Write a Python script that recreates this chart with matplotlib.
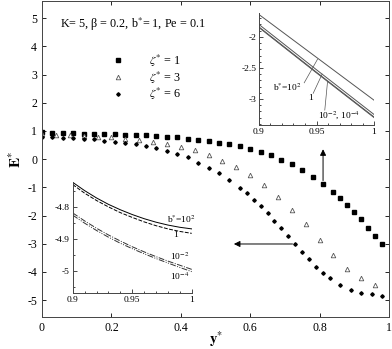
import numpy as np
import matplotlib
matplotlib.use("Agg")
from matplotlib import pyplot as plt
from matplotlib.ticker import FuncFormatter, MultipleLocator

plt.rcParams['font.family'] = ['Liberation Serif', 'DejaVu Serif']
plt.rcParams['mathtext.fontset'] = 'stix'
plt.rcParams['axes.unicode_minus'] = False

# zeta* = 1 (squares)
x1 = [0, 0.03, 0.06, 0.09, 0.12, 0.15, 0.18, 0.21, 0.24, 0.27, 0.30, 0.33, 0.36,
      0.39, 0.42, 0.45, 0.48, 0.51, 0.54, 0.57, 0.60, 0.63, 0.66, 0.69, 0.72, 0.75,
      0.78, 0.81, 0.84, 0.86, 0.88, 0.90, 0.92, 0.94, 0.96, 0.98]
y1 = [0.95, 0.92, 0.92, 0.92, 0.90, 0.90, 0.90, 0.90, 0.87, 0.86, 0.84, 0.83, 0.80,
      0.77, 0.73, 0.69, 0.65, 0.59, 0.52, 0.45, 0.36, 0.25, 0.13, -0.02, -0.18, -0.38,
      -0.62, -0.88, -1.16, -1.39, -1.62, -1.88, -2.14, -2.43, -2.72, -3.01]

# zeta* = 3 (triangles)
x3 = [0, 0.04, 0.08, 0.12, 0.16, 0.20, 0.24, 0.28, 0.32, 0.36, 0.40, 0.44, 0.48,
      0.52, 0.56, 0.60, 0.64, 0.68, 0.72, 0.76, 0.80, 0.84, 0.88, 0.92, 0.96]
y3 = [0.90, 0.86, 0.84, 0.82, 0.80, 0.78, 0.72, 0.69, 0.60, 0.53, 0.43, 0.31, 0.16,
      -0.06, -0.28, -0.58, -0.92, -1.33, -1.80, -2.31, -2.87, -3.41, -3.88, -4.22, -4.46]

# zeta* = 6 (dots)
x6 = [0, 0.03, 0.06, 0.09, 0.12, 0.15, 0.18, 0.21, 0.24, 0.27, 0.30, 0.33, 0.36,
      0.39, 0.42, 0.45, 0.48, 0.51, 0.54, 0.57, 0.59, 0.61, 0.63, 0.65, 0.67, 0.69,
      0.71, 0.73, 0.75, 0.77, 0.79, 0.81, 0.83, 0.86, 0.89, 0.92, 0.95, 0.98]
y6 = [0.78, 0.77, 0.76, 0.75, 0.72, 0.70, 0.66, 0.62, 0.57, 0.52, 0.45, 0.38, 0.28,
      0.18, 0.06, -0.12, -0.30, -0.50, -0.74, -1.01, -1.21, -1.44, -1.66, -1.92, -2.18,
      -2.46, -2.73, -3.01, -3.29, -3.56, -3.82, -4.04, -4.23, -4.47, -4.63, -4.75, -4.80, -4.85]

# inset near y*=1 for zeta*=1
xa = [0.9, 0.95, 1.0]
ya_b100 = [-1.64, -2.33, -3.02]
ya_b1 = [-1.80, -2.53, -3.25]
ya_b001 = [-1.84, -2.57, -3.29]
ya_b0001 = [-1.85, -2.58, -3.30]

# inset near y*=1 for zeta*=6
xb = [0.90, 0.91, 0.92, 0.93, 0.94, 0.95, 0.96, 0.97, 0.98, 0.99, 1.00]
yb_b100 = [-4.722, -4.748, -4.771, -4.791, -4.808, -4.823, -4.836, -4.847, -4.856, -4.863, -4.868]
yb_b1 = [-4.729, -4.756, -4.779, -4.799, -4.817, -4.832, -4.846, -4.858, -4.868, -4.876, -4.882]
yb_b001 = [-4.818, -4.843, -4.866, -4.887, -4.906, -4.924, -4.940, -4.955, -4.969, -4.982, -4.995]
yb_b0001 = [-4.825, -4.850, -4.873, -4.894, -4.913, -4.930, -4.946, -4.961, -4.975, -4.989, -5.002]

fmt = FuncFormatter(lambda v, p: '%g' % round(v, 4))

fig = plt.figure(figsize=(3.92, 3.49), dpi=100)
ax = fig.add_axes([0.1071, 0.0917, 0.8852, 0.9046])

ax.plot(x1, y1, 's', color='black', ms=2.3, ls='none', label=r'$\zeta^{*}$ = 1')
ax.plot(x3, y3, '^', mfc='white', mec='#555555', mew=0.6, ms=3.3, ls='none', label=r'$\zeta^{*}$ = 3')
ax.plot(x6, y6, 'D', color='black', ms=1.8, ls='none', label=r'$\zeta^{*}$ = 6')

ax.set_xlim(0, 1)
ax.set_ylim(-5.6, 5.6)
ax.xaxis.set_major_locator(MultipleLocator(0.2))
ax.yaxis.set_major_locator(MultipleLocator(1))
ax.xaxis.set_major_formatter(fmt)
ax.yaxis.set_major_formatter(fmt)
ax.tick_params(direction='in', top=True, right=True, labelsize=8.5, length=3, width=0.6)
for s in ax.spines.values():
    s.set_linewidth(0.7)
    s.set_color('#444444')

ax.set_xlabel(r'$\mathbf{y}^{*}$', fontsize=10.5, labelpad=-3.5)
ax.set_ylabel(r'$\mathbf{E}^{*}$', fontsize=11, labelpad=2)

ax.text(0.052, 4.78, r'K= 5, β = 0.2, b$^{*}$= 1, Pe = 0.1', fontsize=8.7, va='center')

ax.legend(loc='center left', bbox_to_anchor=(0.17, 0.759), frameon=False, fontsize=8.7,
          handlelength=1, handletextpad=2.1, labelspacing=0.05, numpoints=1)

# arrows pointing to insets
ax.annotate('', xy=(0.81, 0.45), xytext=(0.81, -0.86),
            arrowprops=dict(arrowstyle='-|>', color='black', lw=0.7, mutation_scale=9))
ax.annotate('', xy=(0.545, -3.01), xytext=(0.73, -3.01),
            arrowprops=dict(arrowstyle='-|>', color='black', lw=0.7, mutation_scale=9))

# inset 1
a1 = fig.add_axes([0.6607, 0.6418, 0.2934, 0.3201])
a1.plot(xa, ya_b100, color='#555555', lw=0.7)
a1.plot(xa, ya_b1, color='#555555', lw=0.7)
a1.plot(xa, ya_b001, color='#555555', lw=0.7)
a1.plot(xa, ya_b0001, color='#555555', lw=0.7)
a1.set_xlim(0.9, 1)
a1.set_ylim(-3.42, -1.62)
a1.xaxis.set_major_locator(MultipleLocator(0.05))
a1.xaxis.set_minor_locator(MultipleLocator(0.01))
a1.yaxis.set_major_locator(MultipleLocator(0.5))
a1.yaxis.set_minor_locator(MultipleLocator(0.1))
a1.xaxis.set_major_formatter(fmt)
a1.yaxis.set_major_formatter(fmt)
a1.text(0.9243, -2.82, r'b$^{*}$=10$^{2}$', fontsize=6.8, ha='center', va='center')
a1.plot([0.9393, 0.9509], [-2.74, -2.36], color='#555555', lw=0.5)
a1.text(0.945, -2.99, '1', fontsize=6.8, ha='center', va='center')
a1.plot([0.9471, 0.9549], [-2.91, -2.60], color='#555555', lw=0.5)
a1.text(0.970, -3.26, r'10$^{-2}$, 10$^{-4}$', fontsize=6.8, ha='center', va='center')
a1.plot([0.9572, 0.9596], [-3.18, -2.72], color='#555555', lw=0.5)

# inset 2
a2 = fig.add_axes([0.1855, 0.1596, 0.3036, 0.3198])
a2.plot(xb, yb_b100, color='black', lw=0.7, ls='-')
a2.plot(xb, yb_b1, color='black', lw=0.7, ls=(0, (4, 1.5)))
a2.plot(xb, yb_b001, color='#333333', lw=0.7, ls=(0, (6, 1.5, 1, 1.5)))
a2.plot(xb, yb_b0001, color='#333333', lw=0.7, ls=(0, (6, 1.5, 1, 1.5, 1, 1.5)))
a2.set_xlim(0.9, 1)
a2.set_ylim(-5.07, -4.72)
a2.xaxis.set_major_locator(MultipleLocator(0.05))
a2.xaxis.set_minor_locator(MultipleLocator(0.01))
a2.yaxis.set_major_locator(MultipleLocator(0.1))
a2.yaxis.set_minor_locator(MultipleLocator(0.05))
a2.xaxis.set_major_formatter(fmt)
a2.yaxis.set_major_formatter(fmt)
a2.text(0.9916, -4.838, r'b$^{*}$=10$^{2}$', fontsize=6.8, ha='center', va='center')
a2.text(0.986, -4.888, '1', fontsize=6.8, ha='center', va='center')
a2.text(0.990, -4.955, r'10$^{-2}$', fontsize=6.8, ha='center', va='center')
a2.text(0.9896, -5.018, r'10$^{-4}$', fontsize=6.8, ha='center', va='center')

for a in (a1, a2):
    a.patch.set_alpha(0)
    a.spines['top'].set_visible(False)
    a.spines['right'].set_visible(False)
    for s in ('left', 'bottom'):
        a.spines[s].set_linewidth(0.7)
        a.spines[s].set_color('#444444')
    a.tick_params(which='both', direction='in', labelsize=6.8, width=0.5, pad=2)
    a.tick_params(which='major', length=3)
    a.tick_params(which='minor', length=1.5)

fig.savefig('out.png', dpi=100)
